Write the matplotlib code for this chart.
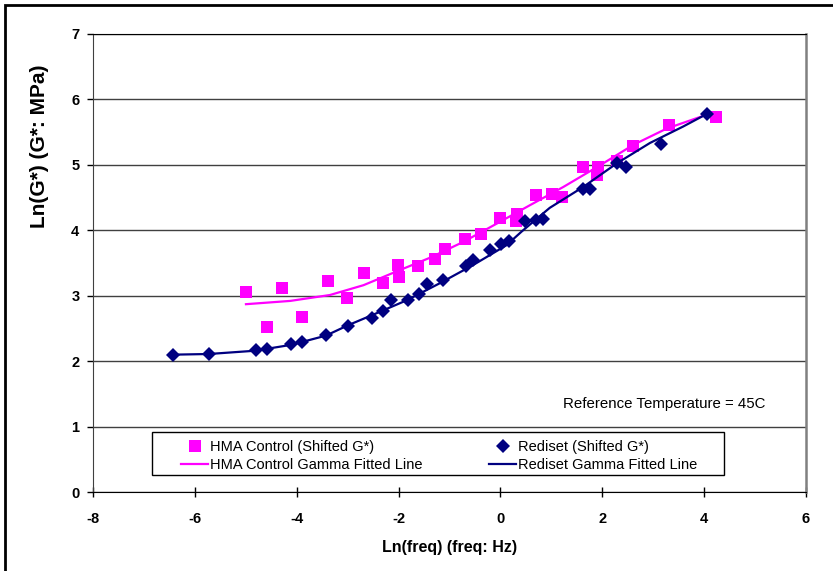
import matplotlib.pyplot as plt
from matplotlib.patches import Rectangle

plt.rcParams['font.family'] = ['Liberation Sans', 'DejaVu Sans']
plt.rcParams['axes.unicode_minus'] = False

# HMA control master curve points (shifted G*)
hma_lnf = [-4.99, -4.59, -4.30, -3.90, -3.39, -3.02, -2.69, -2.30, -2.01, -1.99,
           -1.61, -1.29, -1.09, -0.70, -0.38, 0.00, 0.32, 0.31, 0.70, 1.01,
           1.21, 1.62, 1.92, 1.90, 2.29, 2.61, 3.32, 4.23]
hma_lng = [3.05, 2.52, 3.11, 2.68, 3.23, 2.97, 3.34, 3.20, 3.47, 3.29,
           3.46, 3.56, 3.71, 3.87, 3.94, 4.19, 4.25, 4.14, 4.53, 4.55,
           4.51, 4.96, 4.97, 4.84, 5.06, 5.28, 5.60, 5.73]

# Rediset master curve points (shifted G*)
red_lnf = [-6.43, -5.73, -4.81, -4.59, -4.11, -3.90, -3.43, -2.99, -2.52, -2.30,
           -2.15, -1.82, -1.60, -1.45, -1.12, -0.68, -0.53, -0.20, 0.01, 0.17,
           0.48, 0.70, 0.84, 1.62, 1.76, 2.30, 2.46, 3.16, 4.07]
red_lng = [2.10, 2.11, 2.17, 2.19, 2.26, 2.29, 2.40, 2.54, 2.66, 2.77,
           2.93, 2.93, 3.03, 3.18, 3.24, 3.45, 3.55, 3.70, 3.79, 3.84,
           4.14, 4.16, 4.17, 4.63, 4.63, 5.02, 4.97, 5.31, 5.77]

# Gamma fitted lines
hma_fit_x = [-5.00, -4.13, -3.35, -2.69, -2.04, -1.38, -0.73, -0.07, 0.58, 1.24,
             1.96, 2.61, 3.27, 4.05]
hma_fit_y = [2.87, 2.92, 3.01, 3.16, 3.37, 3.58, 3.82, 4.10, 4.38, 4.66,
             4.99, 5.30, 5.55, 5.76]
red_fit_x = [-6.43, -5.73, -4.82, -4.11, -3.43, -2.99, -2.50, -1.84, -1.19, -0.53,
             0.12, 0.42, 0.97, 1.63, 2.29, 2.94, 3.59, 4.05]
red_fit_y = [2.10, 2.11, 2.16, 2.25, 2.39, 2.55, 2.71, 2.93, 3.19, 3.47,
             3.77, 3.98, 4.34, 4.66, 5.02, 5.33, 5.58, 5.77]

fig = plt.figure(figsize=(8.33, 5.71), dpi=100)
ax = fig.add_axes([93.3 / 833, 1 - 492.3 / 571, 712.4 / 833, 458.8 / 571])

# outer chart border
fig.patches.append(Rectangle((5 / 833, -0.2), 1.2, 1 - 5 / 571 + 0.2,
                             transform=fig.transFigure, fill=False,
                             edgecolor='black', linewidth=2))

ax.set_xlim(-8, 6)
ax.set_ylim(0, 7)
ax.set_yticks(range(0, 8))
ax.set_xticks(range(-8, 7, 2))
ax.grid(axis='y', color='#404040', linewidth=1)
ax.set_axisbelow(True)

p1, = ax.plot(hma_lnf, hma_lng, linestyle='none', marker='s', markersize=8.5,
              color='#FF00FF', markeredgewidth=0)
l1, = ax.plot(hma_fit_x, hma_fit_y, color='#FF00FF', linewidth=1.6)
l2, = ax.plot(red_fit_x, red_fit_y, color='#000080', linewidth=1.6)
p2, = ax.plot(red_lnf, red_lng, linestyle='none', marker='D', markersize=7,
              color='#000080', markeredgewidth=0)

ax.spines['top'].set_color('black')
ax.spines['left'].set_color('#404040')
ax.spines['bottom'].set_color('black')
ax.spines['right'].set_color('#808080')
ax.spines['right'].set_linewidth(1.8)

ax.tick_params(axis='x', direction='inout', length=7, width=1, pad=11,
               labelsize=10.5)
ax.tick_params(axis='y', direction='out', length=4, width=1, pad=6,
               labelsize=10.5)
for lab in ax.get_xticklabels() + ax.get_yticklabels():
    lab.set_fontweight('bold')

ax.set_xlabel('Ln(freq) (freq: Hz)', fontsize=11.5, fontweight='bold', labelpad=10)
# y title sits in the upper half of the axis
fig.text(40 / 833, 1 - 146 / 571, 'Ln(G*) (G*: MPa)', rotation=90,
         fontsize=15, fontweight='bold', ha='center', va='center')

ax.text(1.23, 1.35, 'Reference Temperature = 45C', fontsize=10.8, va='center')

# legend box drawn separately so the entries can sit inside with wide margins
ax.add_patch(Rectangle((0.0824, 0.0377), 0.8026, 0.0937, transform=ax.transAxes,
                       facecolor='white', edgecolor='black', linewidth=1,
                       zorder=4))
leg = ax.legend([p1, l1, p2, l2],
                ['HMA Control (Shifted G*)', 'HMA Control Gamma Fitted Line',
                 'Rediset (Shifted G*)', 'Rediset Gamma Fitted Line'],
                ncol=2, loc='center', bbox_to_anchor=(0.4858, 0.0791),
                fontsize=10.5, frameon=False, borderpad=0,
                labelspacing=0.3, handlelength=1.85, handletextpad=0.15,
                columnspacing=4.55, borderaxespad=0)

fig.savefig('out.png', dpi=100)
